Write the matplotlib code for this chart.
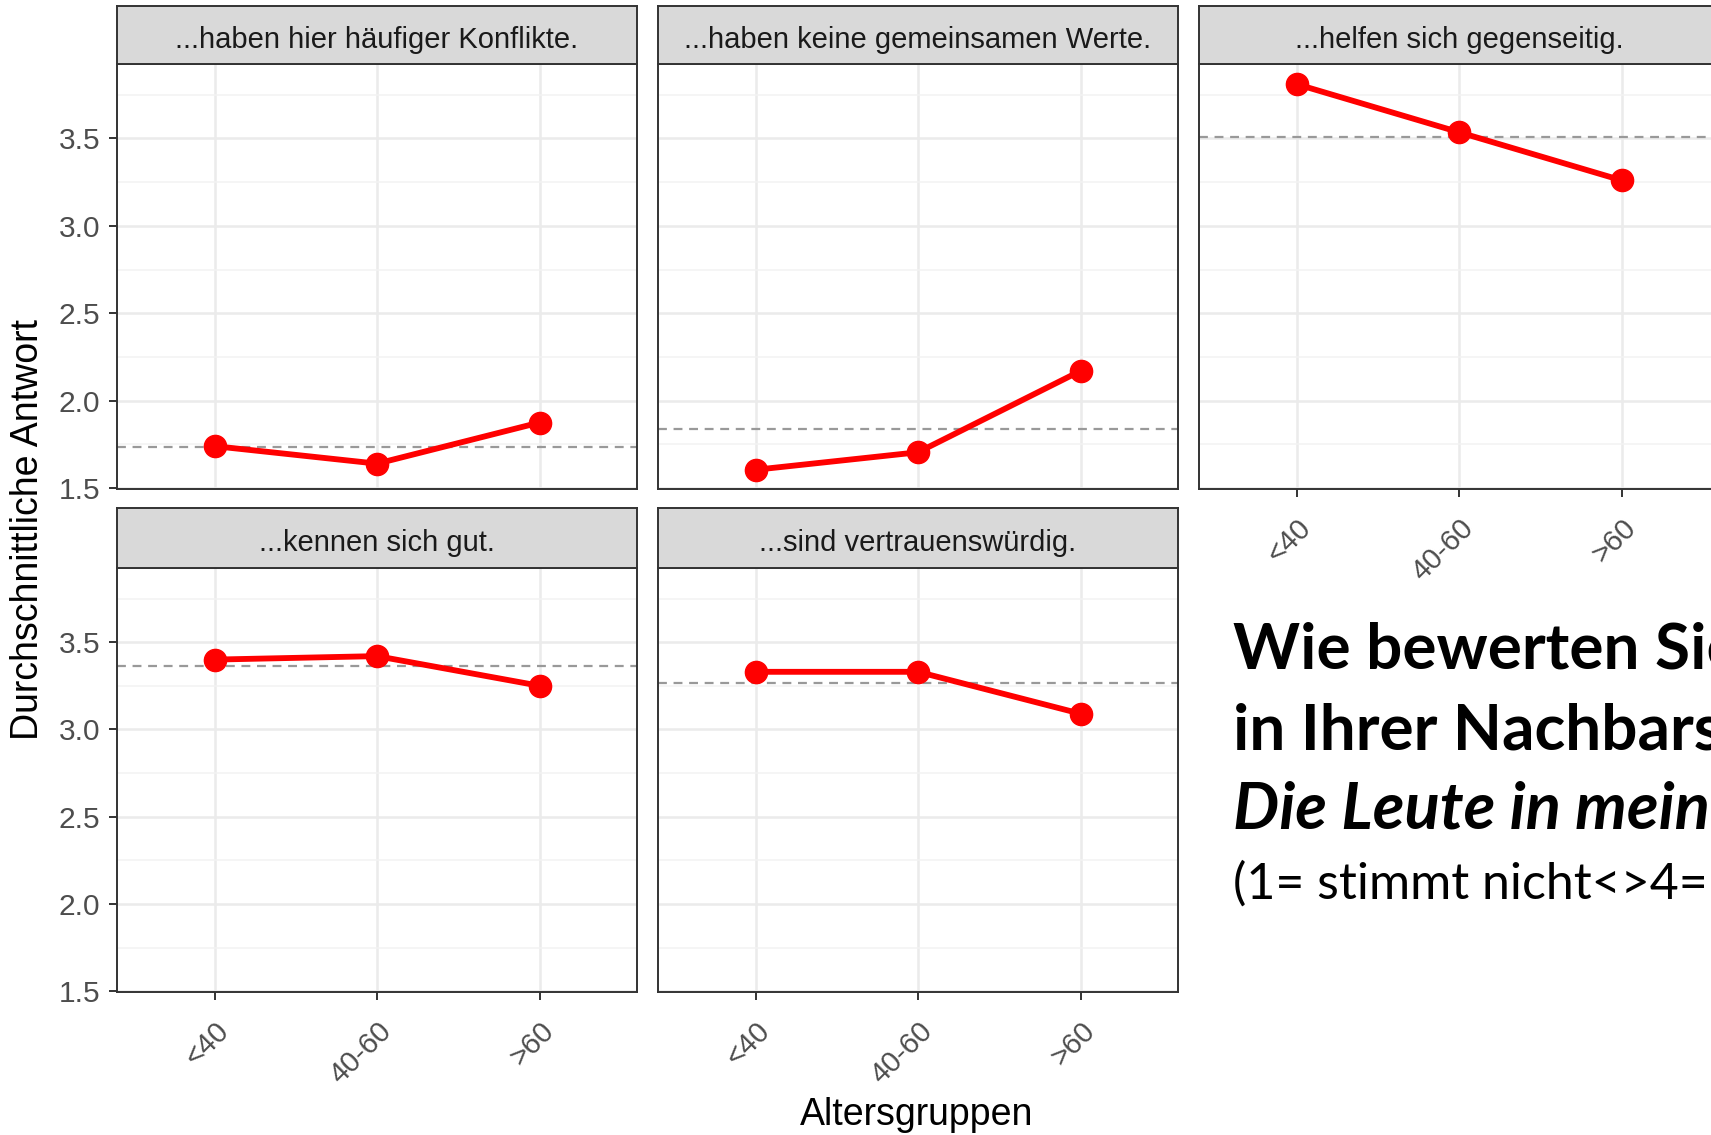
import matplotlib
matplotlib.use('Agg')
import matplotlib.pyplot as plt
from matplotlib.ticker import MultipleLocator

# Data
groups = ['<40', '40-60', '>60']
items = ['...haben hier häufiger Konflikte.',
         '...haben keine gemeinsamen Werte.',
         '...helfen sich gegenseitig.',
         '...kennen sich gut.',
         '...sind vertrauenswürdig.']
konflikte = [1.74, 1.64, 1.875]
keine_werte = [1.605, 1.705, 2.17]
helfen = [3.81, 3.535, 3.26]
kennen = [3.40, 3.42, 3.25]
vertrauen = [3.33, 3.33, 3.09]
means = [1.735, 1.84, 3.505, 3.365, 3.265]

series = [konflikte, keine_werte, helfen, kennen, vertrauen]

W, H = 1711, 1135
fig = plt.figure(figsize=(W / 100, H / 100), dpi=100)
fig.patch.set_facecolor('white')

font = ['Liberation Sans', 'DejaVu Sans']
# pixel boxes: strip top, plot top, plot bottom
lefts = [117, 658, 1199]
pw = 520
rows = [(6, 64, 489), (508, 568, 992)]

for i, (item, vals, m) in enumerate(zip(items, series, means)):
    r, c = divmod(i, 3)
    st, pt, pb = rows[r]
    l = lefts[c]
    ax = fig.add_axes([l / W, 1 - pb / H, pw / W, (pb - pt) / H])
    ax.plot(groups, vals, color='red', lw=4.2, marker='o', ms=16, zorder=3)
    ax.axhline(m, color='#999999', lw=1.6, ls=(0, (4, 3)), zorder=2)
    ax.set_xlim(-0.6, 2.6)
    ax.set_ylim(1.495, 3.925)
    ax.yaxis.set_major_locator(MultipleLocator(0.5))
    ax.yaxis.set_minor_locator(MultipleLocator(0.25))
    ax.grid(True, which='major', color='#EBEBEB', lw=1.8, zorder=0)
    ax.grid(True, which='minor', axis='y', color='#F2F2F2', lw=1.1, zorder=0)
    ax.set_axisbelow(True)
    for s in ax.spines.values():
        s.set_color('#333333')
        s.set_linewidth(1.4)
    ax.tick_params(which='minor', length=0)
    ax.tick_params(which='major', length=6, width=1.4, color='#333333',
                   labelcolor='#4D4D4D', labelsize=21.5, pad=6)
    for t in ax.get_yticklabels():
        t.set_family(font)
    if c != 0:
        ax.tick_params(axis='y', labelleft=False, length=0)
    if r == 0 and c < 2:
        ax.tick_params(axis='x', labelbottom=False, length=0)
    else:
        ax.set_xticks(range(len(groups)))
        ax.set_xticklabels(groups, rotation=45, ha='right', va='top',
                           rotation_mode='anchor', family=font, fontsize=21,
                           color='#4D4D4D')
        ax.tick_params(axis='x', pad=12)

    sax = fig.add_axes([l / W, 1 - pt / H, pw / W, (pt - st) / H])
    sax.set_facecolor('#D9D9D9')
    sax.set_xticks([])
    sax.set_yticks([])
    for s in sax.spines.values():
        s.set_color('#333333')
        s.set_linewidth(1.4)
    sax.text(0.5, 0.42, item, ha='center', va='center', fontsize=21,
             family=font, color='#1A1A1A', transform=sax.transAxes)

fig.text(28 / W, 1 - 529 / H, 'Durchschnittliche Antwort', rotation=90,
         ha='center', va='center', fontsize=27, family=font)
fig.text(917 / W, 1 - 1115 / H, 'Altersgruppen', ha='center', va='center',
         fontsize=27, family=font)

# Title block on the lower right
tx = 1233 / W
fig.text(tx, 1 - 668 / H, 'Wie bewerten Sie folgende Aussagen', fontsize=46,
         fontweight='bold', family=['Lato', 'DejaVu Sans'], va='baseline')
fig.text(tx, 1 - 749 / H, 'in Ihrer Nachbarschaft?', fontsize=46,
         fontweight='bold', family=['Lato', 'DejaVu Sans'], va='baseline')
fig.text(tx, 1 - 829 / H, 'Die Leute in meiner Nachbarschaft...', fontsize=47,
         fontweight='bold', style='italic', family=['Lato', 'DejaVu Sans'],
         va='baseline')
fig.text(tx, 1 - 898 / H, '(1= stimmt nicht<>4= stimmt genau)', fontsize=36,
         family=['Lato', 'DejaVu Sans'], va='baseline')

fig.savefig('out.png', dpi=100)
